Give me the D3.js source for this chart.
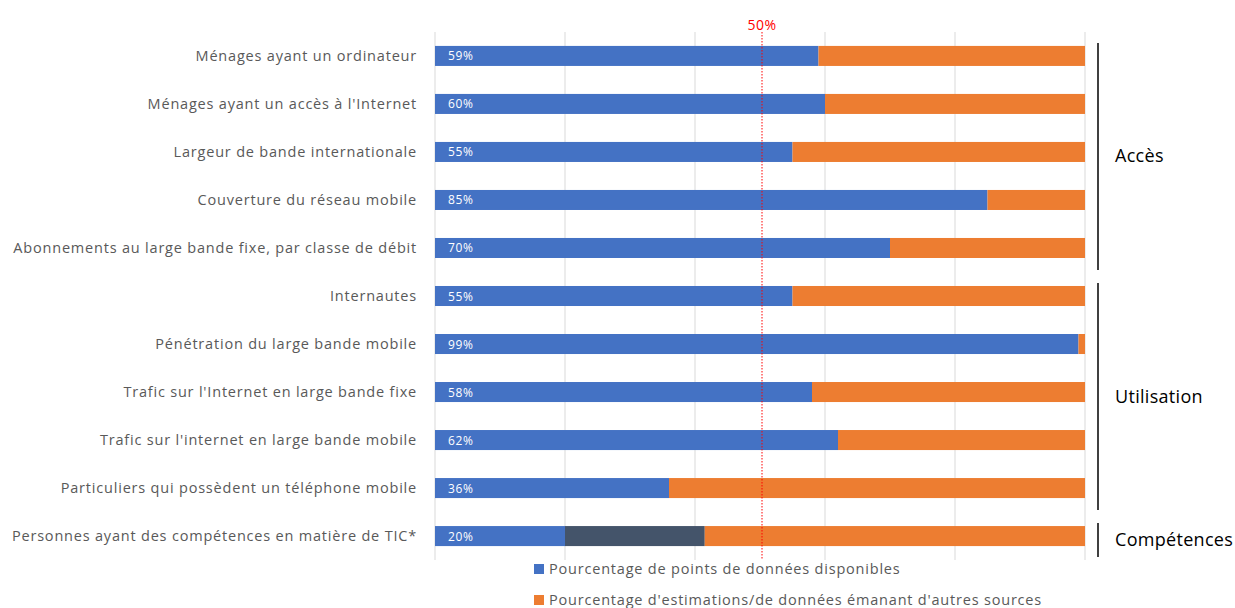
<!DOCTYPE html>
<html>
<head>
<meta charset="utf-8">
<script src="https://cdn.jsdelivr.net/npm/d3@7"></script>
<style>
  body { margin: 0; background: #fff; }
  svg { font-family: "Open Sans", Lato, sans-serif; }
</style>
</head>
<body>
<svg id="chart" width="1235" height="608"></svg>
<script>
// Categories, top to bottom
const categories = [
  "Ménages ayant un ordinateur",
  "Ménages ayant un accès à l'Internet",
  "Largeur de bande internationale",
  "Couverture du réseau mobile",
  "Abonnements au large bande fixe, par classe de débit",
  "Internautes",
  "Pénétration du large bande mobile",
  "Trafic sur l'Internet en large bande fixe",
  "Trafic sur l'internet en large bande mobile",
  "Particuliers qui possèdent un téléphone mobile",
  "Personnes ayant des compétences en matière de TIC*"
];
// % of available data points (blue)
const available = [59, 60, 55, 85, 70, 55, 99, 58, 62, 36, 20];
// extra dark segment (only last row)
const darkPart = [0, 0, 0, 0, 0, 0, 0, 0, 0, 0, 21.5];
// % estimates / other sources (orange) = remainder
const estimates = available.map((v, i) => 100 - v - darkPart[i]);

const groups = [
  { name: "Accès", first: 0, last: 4 },
  { name: "Utilisation", first: 5, last: 9 },
  { name: "Compétences", first: 10, last: 10 }
];
const legendLabels = [
  "Pourcentage de points de données disponibles",
  "Pourcentage d'estimations/de données émanant d'autres sources"
];
const gridTicks = [0, 20, 40, 60, 80, 100];
const refValue = 50;

const colors = { blue: "#4472C4", dark: "#44546A", orange: "#ED7D31" };

const svg = d3.select("#chart");
const margin = { left: 435, right: 150, top: 32, bottom: 48 };
const W = 1235, H = 608;

const x = d3.scaleLinear().domain([0, 100]).range([margin.left, W - margin.right]);
const y = d3.scaleBand().domain(d3.range(categories.length))
  .range([margin.top, H - margin.bottom]).paddingInner(0.583).paddingOuter(0.29);

// gridlines
svg.append("g").selectAll("line").data(gridTicks).join("line")
  .attr("x1", d => x(d)).attr("x2", d => x(d))
  .attr("y1", margin.top).attr("y2", H - margin.bottom)
  .attr("stroke", "#d9d9d9").attr("stroke-width", 1);

// stacked bars
const rows = categories.map((c, i) => ({ i, a: available[i], d: darkPart[i], e: estimates[i] }));
const g = svg.append("g");
g.selectAll("rect.blue").data(rows).join("rect")
  .attr("x", d => x(0)).attr("y", d => y(d.i))
  .attr("width", d => x(d.a) - x(0)).attr("height", y.bandwidth())
  .attr("fill", colors.blue);
g.selectAll("rect.dark").data(rows.filter(d => d.d > 0)).join("rect")
  .attr("x", d => x(d.a)).attr("y", d => y(d.i))
  .attr("width", d => x(d.a + d.d) - x(d.a)).attr("height", y.bandwidth())
  .attr("fill", colors.dark);
g.selectAll("rect.orange").data(rows).join("rect")
  .attr("x", d => x(d.a + d.d)).attr("y", d => y(d.i))
  .attr("width", d => x(100) - x(d.a + d.d)).attr("height", y.bandwidth())
  .attr("fill", colors.orange);

// value labels
g.selectAll("text.val").data(rows).join("text")
  .attr("x", x(0) + 13).attr("y", d => y(d.i) + y.bandwidth() / 2 + 4.5)
  .attr("fill", "#fff").attr("font-size", 12).attr("letter-spacing", 0.6)
  .text(d => d.a + "%");

// category labels
svg.append("g").selectAll("text").data(categories).join("text")
  .attr("x", x(0) - 18).attr("y", (d, i) => y(i) + y.bandwidth() / 2 + 5)
  .attr("text-anchor", "end").attr("fill", "#595959").attr("font-size", 14.5)
  .attr("letter-spacing", 0.8)
  .text(d => d);

// 50% reference line
svg.append("line")
  .attr("x1", x(refValue) + 2).attr("x2", x(refValue) + 2)
  .attr("y1", margin.top).attr("y2", H - margin.bottom)
  .attr("stroke", "#ff0000").attr("stroke-width", 1).attr("stroke-dasharray", "1.5,1.5");
svg.append("text")
  .attr("x", x(refValue) + 2).attr("y", 30)
  .attr("text-anchor", "middle").attr("fill", "#ff0000").attr("font-size", 14)
  .attr("letter-spacing", 0.5)
  .text(refValue + "%");

// group brackets
const bx = 1098;
groups.forEach(gr => {
  const top = y(gr.first) + y.bandwidth() / 2 - 13;
  const bot = y(gr.last) + y.bandwidth() / 2 + (gr.first === gr.last ? 21 : 22);
  svg.append("line").attr("x1", bx).attr("x2", bx).attr("y1", top).attr("y2", bot)
    .attr("stroke", "#000").attr("stroke-width", 1.5);
  svg.append("text").attr("x", 1115).attr("y", (top + bot) / 2 + 6)
    .attr("fill", "#000").attr("font-size", 18).attr("letter-spacing", 0.3).text(gr.name);
});

// legend
const legend = svg.append("g");
[colors.blue, colors.orange].forEach((c, i) => {
  const ly = 569 + i * 31;
  legend.append("rect").attr("x", 534).attr("y", ly - 5).attr("width", 10).attr("height", 10).attr("fill", c);
  legend.append("text").attr("x", 549).attr("y", ly + 5)
    .attr("fill", "#595959").attr("font-size", 14.5).attr("letter-spacing", 0.8)
    .text(legendLabels[i]);
});
</script>
</body>
</html>
